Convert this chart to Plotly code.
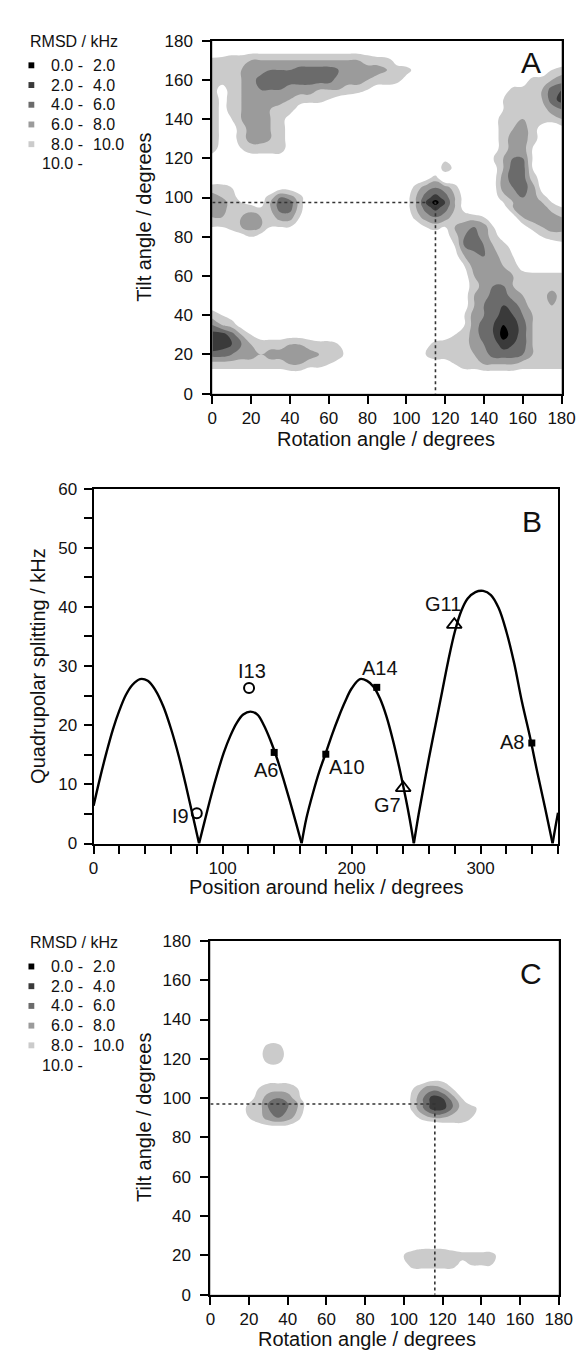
import plotly.graph_objects as go

FONT = "Liberation Sans, Arial, Helvetica, sans-serif"
W, H = 585, 1353

# ---------------- RMSD maps (panels A and C) ----------------
ROTATION = [0, 5, 10, 15, 20, 25, 30, 35, 40, 45, 50, 55, 60, 65, 70, 75, 80, 85, 90,
            95, 100, 105, 110, 115, 120, 125, 130, 135, 140, 145, 150, 155, 160, 165,
            170, 175, 180]
TILT_TOP_DOWN = [180, 175, 170, 165, 160, 155, 150, 145, 140, 135, 130, 125, 120, 115,
                 110, 105, 100, 97.5, 95, 90, 85, 80, 75, 70, 65, 60, 55, 50, 45, 40,
                 35, 30, 25, 20, 15, 10, 5, 0]
# RMSD, one char per grid point: '0'-'9' = 0-9 kHz,
# 'a' = 10, 'b' = 11, 'c' = 12, '.' = 13 (above 10 kHz)
RMSD_CODES = "0123456789abc."

RMSD_A_ROWS = [
    "." * 37,
    ".c" + "b" * 15 + "c" + "." * 19,
    "9999888888888888999bc" + "." * 14 + "cc",
    "999877666555567777899bc" + "." * 11 + "ca9",
    "99987555555557778999bc" + "." * 10 + "c9987",
    "9b98766677788899abbc" + "." * 10 + "c999854",
    "8b9877778999abbcc" + "." * 12 + "ca999853",
    "8b9877899bcc" + "." * 17 + "ca999976",
    "8ba87789bc" + "." * 18 + "cb9989998",
    "8bb97789bc" + "." * 18 + "cb9879bcb",
    "8bb97789bc" + "." * 18 + "cb9779bcc",
    "9bba9999bc" + "." * 18 + "cb977abcc",
    "b.cbbbbbc" + "." * 15 + "b" + "..." + "ca866abcc",
    "." * 24 + "8b" + ".." + "cb855abcc",
    "cc" + "." * 5 + "cc" + "." * 12 + "cb9.c" + "..." + "b7559bcc",
    "99ac..cbbc" + "." * 10 + "c97679c" + ".." + "b7657bcc",
    "789bbb9679c" + "." * 9 + "b85358b" + ".." + "b97679bc",
    "779abb8559c" + "." * 9 + "b84148b" + ".." + "ca8778ab",
    "77999a8559c" + "." * 9 + "b85358b" + ".." + "cb87779a",
    "889878977ac" + "." * 9 + "c9767999a.cb87778",
    "aa9878aaac" + "." * 11 + "ca9a8767ac.b9877",
    "cccbabc" + "." * 16 + "cb96579bc.ca99",
    "." * 24 + "ca65689bc..cb",
    "." * 25 + "b87679ac" + "....",
    "." * 25 + "ca77789bcccc",
    "." * 25 + "cb8777899999",
    "." * 26 + "b9766899999",
    "." * 26 + "b8755789979",
    "bc" + "." * 24 + "b8654579989",
    "9abc" + "." * 21 + "ca7653468999",
    "689bc" + "." * 20 + "ca7542358999",
    "3358abbbbbbcc" + "." * 10 + "cba97541358999",
    "2346899988999ac" + "." * 7 + "b99997653458999",
    "55677877777899bc" + "." * 5 + "ca99998755568999",
    "999999998899abc" + "." * 8 + "bba99888899999",
    "b" * 10 + "cc" + "." * 13 + "c" + "b" * 11,
    "." * 37,
    "." * 37,
]

RMSD_C_ROWS = (
    ["." * 37] * 10 + [
        "." * 6 + "bb" + "." * 29,
        "." * 5 + "b99b" + "." * 28,
        "." * 5 + "b99b" + "." * 28,
        "." * 6 + "bb" + "." * 29,
        "." * 5 + "cbbbc" + "." * 12 + "cbbc" + "." * 11,
        "." * 4 + "ca999ac" + "." * 10 + "a878ac" + "." * 10,
        "." * 4 + "b97679c" + "." * 9 + "c96347ac" + "." * 9,
        "." * 3 + "ca96568b" + "." * 9 + "c963369b" + "." * 9,
        "." * 3 + "c996568b" + "." * 9 + "c9633699b" + "." * 8,
        "." * 3 + "ca97679c" + "." * 10 + "b98899ac" + "." * 8,
        "." * 4 + "cbbbbc" + "." * 14 + "cbbc" + "." * 9,
    ] + ["." * 37] * 11 + [
        "." * 20 + "cbbbbbcccc" + "." * 7,
        "." * 19 + "ca988899999b" + "." * 6,
        "." * 20 + "b99999baaac" + "." * 6,
        "." * 20 + "c" * 10 + "." * 7,
        "." * 37,
        "." * 37,
    ]
)

REF_A = (115, 97.5)   # best-fit rotation / tilt, panel A
REF_C = (116, 97.0)   # best-fit rotation / tilt, panel C

LEGEND_LABELS_LEFT = ["0.0 -", "2.0 -", "4.0 -", "6.0 -", "8.0 -", "10.0 -"]
LEGEND_LABELS_RIGHT = ["2.0", "4.0", "6.0", "8.0", "10.0", ""]
LEVEL_COLORS = ["#000000", "#3a3a3a", "#6b6b6b", "#9b9b9b", "#cbcbcb", "#ffffff"]

# ---------------- Panel B ----------------
ARC_X = [
    [0, 5, 10, 15, 20, 25, 30, 36, 42, 48, 54, 60, 66, 72, 77, 81.75],
    [81.75, 86, 91, 96, 101, 106, 111, 116, 121.5, 127, 132, 137, 142, 147, 152, 157, 161.25],
    [161.25, 165, 170, 175, 180, 185, 190, 195, 200, 206.5, 212, 217, 222, 227, 232, 237,
     242, 245, 248.25],
    [248.25, 252, 256, 260, 265, 270, 275, 280, 285, 290, 296, 302, 308, 314, 320, 326,
     332, 338, 344, 350, 355.8],
    [355.8, 358, 360],
]
ARC_Y = [
    [6.4, 11.1, 15.4, 19.3, 22.5, 25.1, 26.8, 27.8, 27.5, 25.9, 23.2, 19.4, 14.8, 9.4, 4.6, 0],
    [0, 3.7, 8.0, 11.9, 15.4, 18.2, 20.4, 21.8, 22.3, 21.8, 20.0, 17.5, 14.5, 11.0, 7.3, 3.4, 0],
    [0, 4.3, 8.5, 12.2, 15.3, 18.5, 21.4, 24.0, 26.2, 27.8, 27.5, 26.5, 24.5, 21.5, 17.5,
     12.8, 7.6, 4.2, 0],
    [0, 5.0, 9.8, 14.5, 20.0, 25.5, 31.0, 35.8, 39.3, 41.4, 42.5, 42.7, 42.0, 39.8, 35.8,
     30.5, 24.0, 18.3, 12.0, 6.0, 0],
    [0, 2.8, 5.2],
]
SQ_NAMES = ["A6", "A10", "A14", "A8"]
SQ_POS = [140, 180, 219.5, 339.7]
SQ_VAL = [15.4, 15.1, 26.4, 17.0]
CI_NAMES = ["I9", "I13"]
CI_POS = [80, 120.5]
CI_VAL = [5.1, 26.3]
TR_NAMES = ["G7", "G11"]
TR_POS = [240, 279.6]
TR_VAL = [9.4, 37.0]
LABEL_TEXT = ["I9", "I13", "A6", "A10", "A14", "G7", "G11", "A8"]
LABEL_POS = [67, 122.7, 133.7, 196.5, 221.7, 227.7, 271.2, 324.3]
LABEL_VAL = [4.7, 29.2, 12.4, 12.9, 29.6, 6.5, 40.5, 17.2]


def decode(rows):
    for r in rows:
        assert len(r) == 37, (len(r), r)
    assert len(rows) == len(TILT_TOP_DOWN)
    return [[RMSD_CODES.index(ch) for ch in r] for r in reversed(rows)]


TILT = list(reversed(TILT_TOP_DOWN))
zA = decode(RMSD_A_ROWS)
zC = decode(RMSD_C_ROWS)

CSCALE = [[0.0, LEVEL_COLORS[0]], [0.2, LEVEL_COLORS[1]], [0.4, LEVEL_COLORS[2]],
          [0.6, LEVEL_COLORS[3]], [0.8, LEVEL_COLORS[4]], [1.0, LEVEL_COLORS[5]]]


def contour(z, xa, ya):
    return go.Contour(
        x=ROTATION, y=TILT, z=z, xaxis=xa, yaxis=ya,
        autocontour=False,
        contours=dict(start=2, end=10, size=2, coloring="fill", showlines=False),
        colorscale=CSCALE, line=dict(width=0, smoothing=1.3),
        showscale=False, hoverinfo="skip")


fig = go.Figure()
fig.add_trace(contour(zA, "x", "y"))
fig.add_trace(contour(zC, "x3", "y3"))

DOT = dict(color="#333333", width=1.6, dash="dot")
for ref, xa, ya in [(REF_A, "x", "y"), (REF_C, "x3", "y3")]:
    fig.add_trace(go.Scatter(x=[0, ref[0], ref[0]], y=[ref[1], ref[1], 0], mode="lines",
                             line=DOT, xaxis=xa, yaxis=ya, hoverinfo="skip"))

# Panel B curve
cx, cy = [], []
for xs, ys in zip(ARC_X, ARC_Y):
    cx += xs + [None]
    cy += ys + [None]
fig.add_trace(go.Scatter(x=cx, y=cy, mode="lines", line=dict(color="black", width=2.4, shape="spline"),
                         xaxis="x2", yaxis="y2", connectgaps=False, hoverinfo="skip"))
fig.add_trace(go.Scatter(x=SQ_POS, y=SQ_VAL, mode="markers", text=SQ_NAMES,
                         marker=dict(symbol="square", size=7, color="black"),
                         xaxis="x2", yaxis="y2"))
fig.add_trace(go.Scatter(x=CI_POS, y=CI_VAL, mode="markers", text=CI_NAMES,
                         marker=dict(symbol="circle-open", size=10, color="black",
                                     line=dict(width=2, color="black")),
                         xaxis="x2", yaxis="y2"))
fig.add_trace(go.Scatter(x=TR_POS, y=TR_VAL, mode="markers", text=TR_NAMES,
                         marker=dict(symbol="triangle-up-open", size=13, color="black",
                                     line=dict(width=1.8, color="black")),
                         xaxis="x2", yaxis="y2"))


def px(x):
    return x / W


def py(y):
    return 1 - y / H


common = dict(showline=True, linecolor="black", linewidth=2, mirror=True, ticks="outside",
              ticklen=8, tickwidth=2, tickcolor="black", showgrid=False, zeroline=False,
              tickfont=dict(family=FONT, size=17, color="#111111"), fixedrange=True)

fig.update_layout(
    width=W, height=H, margin=dict(l=0, r=0, t=0, b=0),
    paper_bgcolor="white", plot_bgcolor="white", showlegend=False,
    font=dict(family=FONT, color="#111111"),
    xaxis=dict(domain=[px(206), px(567)], anchor="y", range=[0, 180], tick0=0, dtick=20, **common),
    yaxis=dict(domain=[py(382), py(24)], anchor="x", range=[0, 180], tick0=0, dtick=20,
               ticklabelstandoff=6, **common),
    xaxis2=dict(domain=[px(83.3), px(563.3)], anchor="y2", range=[0, 360], tick0=0, dtick=100,
                minor=dict(tick0=0, dtick=20, ticks="outside", ticklen=8, tickwidth=2, tickcolor="black"),
                **common),
    yaxis2=dict(domain=[py(838.3), py(478.3)], anchor="x2", range=[0, 60], tick0=0, dtick=10,
                minor=dict(tick0=0, dtick=5, ticks="outside", ticklen=8, tickwidth=2, tickcolor="black"),
                ticklabelstandoff=3, **common),
    xaxis3=dict(domain=[px(204), px(564)], anchor="y3", range=[0, 180], tick0=0, dtick=20,
                **common),
    yaxis3=dict(domain=[py(1296), py(937)], anchor="x3", range=[0, 180], tick0=0, dtick=20,
                ticklabelstandoff=6, **common),
)

ann = []


def text(x, y, s, size, angle=0, xanchor="center", ref="paper"):
    if ref == "paper":
        ann.append(dict(x=px(x), y=py(y), xref="paper", yref="paper", text=s, showarrow=False,
                        textangle=angle, xanchor=xanchor, yanchor="middle",
                        font=dict(family=FONT, size=size, color="#111111")))
    else:
        ann.append(dict(x=x, y=y, xref="x2", yref="y2", text=s, showarrow=False,
                        xanchor=xanchor, yanchor="middle",
                        font=dict(family=FONT, size=size, color="#111111")))


# axis titles
text(136, 203, "Tilt angle / degrees", 20, angle=-90)
text(386, 428, "Rotation angle / degrees", 20)
text(26, 658, "Quadrupolar splitting / kHz", 20, angle=-90)
text(324, 882, "Position around helix / degrees", 20)
text(136, 1116, "Tilt angle / degrees", 20, angle=-90)
text(366, 1341, "Rotation angle / degrees", 20)
# panel letters
text(535, 46, "A", 30)
text(536, 512, "B", 30)
text(535, 970, "C", 30)
# point labels
for s, x, y in zip(LABEL_TEXT, LABEL_POS, LABEL_VAL):
    text(x, y, s, 20, ref="b")

# legends (A and C)
shapes = []
for top in (25, 939):
    text(15, top, "RMSD / kHz", 16, xanchor="left")
    for i, (l, r) in enumerate(zip(LEGEND_LABELS_LEFT, LEGEND_LABELS_RIGHT)):
        yc = top + 24 + 20 * i
        text(74, yc, l, 16, xanchor="right")
        if r:
            text(81, yc, r, 16, xanchor="left")
        if i < 5:
            shapes.append(dict(type="rect", xref="paper", yref="paper",
                               x0=px(16), x1=px(22), y0=py(yc + 3), y1=py(yc - 3),
                               fillcolor=LEVEL_COLORS[i], line=dict(width=0)))

fig.update_layout(annotations=ann, shapes=shapes)
fig.write_html("out.html")
